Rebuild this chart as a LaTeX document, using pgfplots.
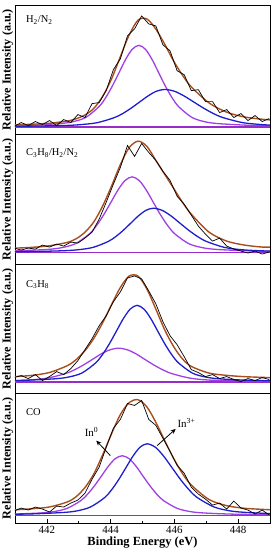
\documentclass[border=0pt]{standalone}
\usepackage{fontspec}
\setmainfont{Liberation Serif}
\usepackage{pgfplots}
\pgfplotsset{compat=1.18}
\usepackage{pgfplotstable}
\usepgfplotslibrary{groupplots}
\usetikzlibrary{arrows.meta}
\definecolor{env}{RGB}{168,78,30}
\definecolor{vio}{RGB}{160,64,228}
\definecolor{blu}{RGB}{30,30,205}
\definecolor{bas}{RGB}{150,45,200}

\pgfplotstableread{
x r1 r2 r3 r4
440.97 8 16 16 12
441.194 12 14 18 15
441.416 9 16 15 13
441.639 13 15 19 16
441.861 10 19 13 14
442.083 14 17 17 11
442.306 9 20 22 17
442.528 15 18 19 16
442.750 12 22 25 20
442.973 20 21 33 23
443.195 17 26 44 30
443.418 31 32 55 44
443.640 32 45 68 56
443.862 44 62 78 76
444.085 65 80 92 95
444.307 76 97 102 104
444.529 99 119 116 120
444.752 106 108 118 118
444.974 119 121 115 123
445.196 111 112 103 104
445.419 109 104 90 98
445.641 90 93 72 85
445.864 84 84 58 72
446.086 64 68 49 58
446.308 60 60 37 50
446.531 44 49 24 36
446.753 45 38 21 29
446.975 33 30 17 24
447.198 33 23 19 18
447.420 22 26 15 20
447.642 25 18 17 14
447.865 17 15 14 22
448.087 21 13 12 15
448.309 14 11 15 13
448.532 19 13 13 9
448.754 13 10 16 13
448.977 16 12 14 8
}\raw

\pgfplotstableread{
x e1 e2 e3 e4
440.97 9.6 15.9 16.9 13.2
441.528 10.3 16.7 18.2 14.3
442.083 11.3 18.3 21.1 16.1
442.639 13.5 21.7 27.9 21.1
442.917 15.8 25.3 34.0 26.4
443.195 19.6 31.9 43.0 35.6
443.473 26.2 42.3 55.3 49.3
443.751 38.4 58.3 71.1 68.5
444.029 55.8 78.2 89.3 89.6
444.307 78.3 99.9 106.5 108.9
444.585 100.1 116.9 118.0 121.0
444.863 114.9 123.3 117.8 123.7
445.141 115.9 118.0 104.7 116.4
445.419 105.8 104 84.7 101.1
445.697 90.6 90 63.9 82.7
445.975 73.8 76 47.2 64.9
446.253 59.6 62 34.8 49.7
446.531 47.8 50 27.2 38.1
447.087 31.7 32 20.5 23.6
447.642 22.4 23 18.2 17.4
448.198 17.6 19 16.9 14.8
448.754 15.3 17 16.2 13.7
449.09 14.5 17 15.9 13.2
}\env

\begin{document}
\begin{tikzpicture}
\begin{groupplot}[
  group style={group size=1 by 4, vertical sep=0pt, group name=G},
  width=255bp, height=129.5bp, scale only axis,
  xmin=441, xmax=449, ymin=0, ymax=130,
  ytick=\empty, xtick=\empty,
  axis line style={line width=0.9pt},
  no markers,
  ylabel={\bfseries Relative Intensity (a.u.)},
  ylabel style={at={(rel axis cs:0,0.5)}, anchor=south, inner sep=1.5pt, font=\fontsize{12.2}{13}\selectfont},
  /pgf/number format/assume math mode=true,
  tick label style={font=\fontsize{11}{12}\selectfont},
  clip=true,
]
% ---------- Panel 1: H2/N2
\nextgroupplot
\addplot[bas, line width=1.3pt] coordinates {(441,7.5) (449,7.5)};
\addplot[vio, line width=1.3pt, smooth] coordinates {
(441.0,8.9) (441.549,9.4) (442.383,10.9) (442.80,12.7) (443.217,17.1) (443.634,27.9)
(443.843,36.9) (444.051,48.5) (444.26,61.8) (444.468,75.2) (444.677,85.5) (444.885,89.5)
(445.094,85.5) (445.302,75.2) (445.511,61.8) (445.719,48.5) (445.928,36.9) (446.136,27.9)
(446.553,17.1) (446.97,12.7) (447.387,10.9) (448.221,9.4) (449.0,8.8)};
\addplot[blu, line width=1.3pt, smooth] coordinates {
(441.0,8.2) (441.473,8.4) (442.529,9.0) (443.057,9.9) (443.585,11.9) (444.113,16.9)
(444.377,21.0) (444.641,26.4) (444.905,32.5) (445.169,38.6) (445.433,43.4) (445.697,45.2)
(446.003,43.4) (446.309,38.6) (446.614,32.5) (446.92,26.4) (447.226,21.0) (447.532,16.9)
(448.143,11.9) (448.755,9.9) (449.0,9.5)};
\addplot[env, line width=1.4pt, smooth] table[x=x,y=e1] {\env};
\addplot[black, line width=0.7pt] table[x=x,y=r1] {\raw};
\node[anchor=west, font=\fontsize{10.5}{12}\selectfont] at (rel axis cs:0.03,0.885) {H\textsubscript{2}/N\textsubscript{2}};

% ---------- Panel 2: C3H8/H2/N2
\nextgroupplot
\addplot[bas, line width=1.3pt] coordinates {(441,11.5) (449,11.5)};
\addplot[vio, line width=1.3pt, smooth] coordinates {
(441.0,13.2) (441.118,13.3) (442.007,14.6) (442.451,16.3) (442.896,20.4) (443.34,30.4)
(443.563,38.8) (443.785,49.5) (444.007,61.8) (444.229,74.2) (444.452,83.8) (444.674,87.5)
(444.896,83.8) (445.119,74.2) (445.341,61.8) (445.563,49.5) (445.785,38.8) (446.008,30.4)
(446.452,20.4) (446.897,16.3) (447.341,14.6) (448.23,13.3) (449.0,12.7)};
\addplot[blu, line width=1.3pt, smooth] coordinates {
(441.0,12.3) (441.561,12.5) (442.506,13.3) (442.978,14.3) (443.451,16.7) (443.923,22.6)
(444.16,27.5) (444.396,33.8) (444.632,41.0) (444.868,48.2) (445.105,53.8) (445.341,56.0)
(445.619,53.8) (445.897,48.2) (446.175,41.0) (446.453,33.8) (446.731,27.5) (447.009,22.6)
(447.565,16.7) (448.121,14.3) (448.677,13.3) (449.0,13.0)};
\addplot[env, line width=1.4pt, smooth] table[x=x,y=e2] {\env};
\addplot[black, line width=0.7pt] table[x=x,y=r2] {\raw};
\node[anchor=west, font=\fontsize{10.5}{12}\selectfont] at (rel axis cs:0.03,0.855) {C\textsubscript{3}H\textsubscript{8}/H\textsubscript{2}/N\textsubscript{2}};

% ---------- Panel 3: C3H8
\nextgroupplot
\addplot[bas, line width=1.3pt] coordinates {(441,11.5) (449,11.5)};
\addplot[vio, line width=1.3pt, smooth] coordinates {
(441.0,13.0) (441.471,13.6) (442.027,15.5) (442.583,20.0) (442.861,23.7) (443.139,28.5)
(443.417,34.0) (443.695,39.6) (443.973,43.8) (444.251,45.5) (444.529,43.8) (444.807,39.6)
(445.085,34.0) (445.363,28.5) (445.641,23.7) (445.919,20.0) (446.475,15.5) (447.031,13.6)
(447.587,12.9) (448.699,12.3) (449.0,12.2)};
\addplot[blu, line width=1.3pt, smooth] coordinates {
(441.0,13.0) (441.362,13.3) (442.229,14.7) (442.662,16.4) (443.096,20.5) (443.529,30.7)
(443.746,39.1) (443.963,50.0) (444.18,62.5) (444.396,75.0) (444.613,84.7) (444.83,88.5)
(445.047,84.7) (445.264,75.0) (445.48,62.5) (445.697,50.0) (445.914,39.1) (446.131,30.7)
(446.564,20.5) (446.998,16.4) (447.431,14.7) (448.298,13.3) (449.0,12.8)};
\addplot[env, line width=1.4pt, smooth] table[x=x,y=e3] {\env};
\addplot[black, line width=0.7pt] table[x=x,y=r3] {\raw};
\node[anchor=west, font=\fontsize{10.5}{12}\selectfont] at (rel axis cs:0.03,0.84) {C\textsubscript{3}H\textsubscript{8}};

% ---------- Panel 4: CO
\nextgroupplot[
  xtick={442,444,446,448}, minor xtick={443,445,447}, xtick pos=bottom, tick align=inside,
  major tick length=4bp, minor tick length=2.5bp, tick style={line width=0.7pt, black},
  xlabel={\bfseries Binding Energy (eV)},
  xlabel style={font=\fontsize{12.5}{14}\selectfont, inner sep=1pt, yshift=2bp},
]
\addplot[bas, line width=1.3pt] coordinates {(441,7.5) (449,7.5)};
\addplot[vio, line width=1.3pt, smooth] coordinates {
(441.0,9.0) (441.762,10.0) (442.195,11.3) (442.629,14.6) (443.062,22.4) (443.279,29.0)
(443.496,37.5) (443.713,47.2) (443.929,57.0) (444.146,64.6) (444.363,67.5) (444.58,64.6)
(444.797,57.0) (445.013,47.2) (445.23,37.5) (445.447,29.0) (445.664,22.4) (446.097,14.6)
(446.531,11.3) (446.964,10.0) (447.831,8.9) (449.0,8.3)};
\addplot[blu, line width=1.3pt, smooth] coordinates {
(441.0,8.8) (441.585,9.2) (442.474,10.5) (442.918,12.0) (443.363,16.0) (443.807,25.4)
(444.03,33.3) (444.252,43.5) (444.474,55.2) (444.696,66.9) (444.919,76.0) (445.141,79.5)
(445.405,76.0) (445.669,66.9) (445.933,55.2) (446.197,43.5) (446.461,33.3) (446.725,25.4)
(447.253,16.0) (447.781,12.0) (448.309,10.5) (449.0,9.5)};
\addplot[env, line width=1.4pt, smooth] table[x=x,y=e4] {\env};
\addplot[black, line width=0.7pt] table[x=x,y=r4] {\raw};
\node[anchor=west, font=\fontsize{10.5}{12}\selectfont] at (rel axis cs:0.03,0.86) {CO};
\node[font=\fontsize{11}{12}\selectfont] at (axis cs:443.40,91) {In\textsuperscript{0}};
\node[font=\fontsize{11}{12}\selectfont] at (axis cs:446.38,100) {In\textsuperscript{3+}};
\draw[-{Stealth[length=5bp,width=4.5bp]}, line width=0.8pt] (axis cs:443.99,67.7) -- (axis cs:443.55,82.7);
\draw[-{Stealth[length=5bp,width=4.5bp]}, line width=0.8pt] (axis cs:445.46,77.7) -- (axis cs:446.04,94.4);
\end{groupplot}
\pgfresetboundingbox
\path ([xshift=-15bp,yshift=5bp]G c1r1.north west) rectangle ([xshift=6bp,yshift=-27bp]G c1r4.south east);
\end{tikzpicture}
\end{document}
